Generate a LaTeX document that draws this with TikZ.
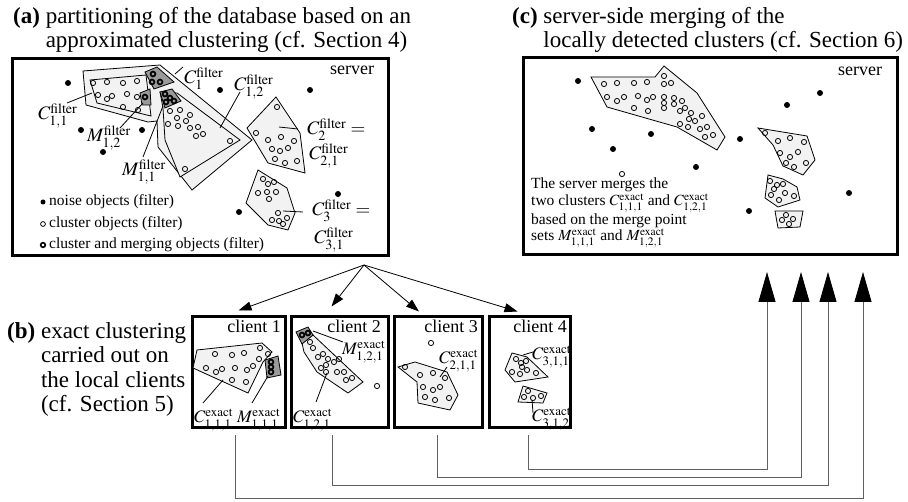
\documentclass[tikz,border=0pt]{standalone}
\usepackage{mathptmx}
\usepackage{fontspec}
\setmainfont{Liberation Serif}
\usetikzlibrary{arrows.meta}
\definecolor{clfill}{HTML}{F2F2F2}
\definecolor{mgfill}{HTML}{9A9A9A}
\definecolor{backgray}{HTML}{606060}

\begin{document}
\begin{tikzpicture}[x=1pt,y=-1pt,every node/.style={inner sep=0pt}]
  \tikzset{
    panel/.style={draw,line width=3pt,fill=white},
    clus/.style={draw,fill=clfill,line width=0.8pt},
    mrg/.style={draw,fill=mgfill,line width=0.8pt},
    lead/.style={line width=0.8pt},
    ttl/.style={font=\fontsize{23}{24.5}\selectfont,align=left,anchor=north west},
    lbl/.style={font=\fontsize{19}{20}\selectfont,anchor=base west},
    xlbl/.style={font=\fontsize{17.5}{18}\selectfont,anchor=base west},
    small/.style={font=\fontsize{15.5}{16.7}\selectfont},
    fanarrow/.style={-{Triangle[length=13pt,width=9pt]},line width=0.8pt},
    backline/.style={draw=backgray,line width=0.9pt,-{Triangle[length=30pt,width=17pt,color=black]}}
  }
  \useasboundingbox (0,0) rectangle (908,502);

  % titles
  \node[ttl] (ttlA) at (13,7) {\textbf{(a)} partitioning of the database based on an\\
    \phantom{\textbf{(a)} }approximated clustering (cf. Section 4)};
  \node[ttl] (ttlC) at (512,7) {\textbf{(c)} server-side merging of the\\
    \phantom{\textbf{(c)} }locally detected clusters (cf. Section 6)};
  \node[ttl] (ttlB) at (7,322) {\textbf{(b)} exact clustering\\
    \phantom{\textbf{(b)} }carried out on\\
    \phantom{\textbf{(b)} }the local clients\\
    \phantom{\textbf{(b)} }(cf. Section 5)};

  % panel (a): server, filter clustering
  \node[panel,minimum width=376pt,minimum height=197pt] (srvA) at (200,157.5) {};
  \node[anchor=base west,font=\fontsize{18}{18}\selectfont] (srvAname) at (330,75) {server};
  \draw[clus] (83,71) -- (160,65) -- (252,140) -- (192,190) -- (158,147) -- (157,121)
    -- (148,122) -- (86,105) -- cycle;
  \draw[clus] (90,80) -- (146,75) -- (151,116) -- (97,103) -- cycle;
  \draw[clus] (160,92) -- (177,93) -- (240,140) -- (180,177) -- (165,140) -- (163,108) -- cycle;
  \draw[mrg] (145,72) -- (157,67) -- (174,82) -- (154,89) -- cycle;
  \draw[mrg] (140,93) -- (150,89) -- (151,105) -- (142,105) -- cycle;
  \draw[mrg] (160,92) -- (172,89) -- (181,101) -- (165,108) -- cycle;
  \draw[clus] (276,97) -- (300,133) -- (305,173) -- (268,163) -- (247,128) -- cycle;
  \draw[clus] (258,170) -- (287,188) -- (295,213) -- (288,230) -- (268,225) -- (246,203) -- cycle;
  \foreach \x/\y in {93/83,107/82,123/83,137/81,98/95,107/99,112/96,127/94,137/97,123/107,138/110,
      170/111,180/110,190/115,177/118,186/121,168/124,178/126,190/128,198/127,196/136,203/134,
      230/141,185/169,
      277/107,256/133,268/140,281/137,294/141,272/149,280/151,288/148,275/159,285/163,297/161,
      263/179,268/184,274/182,258/193,267/192,276/192,269/199,278/213,272/220,279/221,287/218,283/224}
    \draw[line width=0.8pt] (\x,\y) circle (2.6pt);
  \foreach \x/\y in {153/74,152/82,160/82,145/97,165/94,170/98,166/102,174/101}
    \draw[line width=1.7pt] (\x,\y) circle (2.4pt);
  \foreach \x/\y in {68/83,81/130,142/130,103/152,220/90,310/90,239/212,338/194}
    \fill (\x,\y) circle (3pt);
  % labels of (a)
  \node[lbl] (lC1) at (184,84) {$C_1^{\mathrm{filter}}$};
  \node[lbl] (lC12) at (234,91) {$C_{1,2}^{\mathrm{filter}}$};
  \node[lbl] (lC11) at (38,120) {$C_{1,1}^{\mathrm{filter}}$};
  \node[lbl] (lM12) at (87,142) {$M_{1,2}^{\mathrm{filter}}$};
  \node[lbl] (lM11) at (122,176) {$M_{1,1}^{\mathrm{filter}}$};
  \node[lbl] (lC2) at (307,135) {$C_2^{\mathrm{filter}}=$};
  \node[lbl] (lC21) at (309,160) {$C_{2,1}^{\mathrm{filter}}$};
  \node[lbl] (lC3) at (312,216) {$C_3^{\mathrm{filter}}=$};
  \node[lbl] (lC31) at (314,244) {$C_{3,1}^{\mathrm{filter}}$};
  \draw[lead] (67,103) -- (92,93);
  \draw[lead] (120,128) -- (143,103);
  \draw[lead] (143,157) -- (163,106);
  \draw[lead] (175,74) -- (183,67);
  \draw[lead] (240,92) -- (220,128);
  \draw[lead] (279,127) -- (298,129);
  \draw[lead] (283,211) -- (303,212);
  % legend
  \fill (43,202) circle (2.5pt);
  \draw[line width=0.8pt] (43,224) circle (2.4pt);
  \draw[line width=1.7pt] (43,245) circle (2.3pt);
  \node[small,anchor=base west] (legNoise) at (49,206) {noise objects (filter)};
  \node[small,anchor=base west] (legClus) at (49,228) {cluster objects (filter)};
  \node[small,anchor=base west] (legMerge) at (49,249) {cluster and merging objects (filter)};

  % panel (c): server, merged clusters
  \node[panel,minimum width=374pt,minimum height=197pt] (srvC) at (710,156.5) {};
  \node[anchor=base west,font=\fontsize{18}{18}\selectfont] (srvCname) at (838,76) {server};
  \draw[clus] (591,77) -- (655,77) -- (664,66) -- (697,93) -- (725,137) -- (717,150)
    -- (677,127) -- (607,107) -- cycle;
  \draw[clus] (758,128) -- (807,136) -- (815,160) -- (803,175) -- (783,166) -- (773,145) -- cycle;
  \draw[clus] (768,175) -- (783,179) -- (797,187) -- (800,200) -- (778,207) -- (765,198) -- cycle;
  \draw[clus] (775,211) -- (803,211) -- (800,227) -- (778,228) -- cycle;
  \foreach \x/\y in {604/84,617/83,634/83,647/82,664/76,664/84,671/83,607/97,617/101,624/97,
      638/96,647/100,653/97,664/97,664/103,674/98,674/104,682/101,680/111,685/108,691/113,
      689/119,695/121,702/116,634/108,648/111,664/108,680/124,688/127,700/129,707/127,705/137,713/135,
      765/133,778/141,790/138,804/142,780/153,790/157,798/152,786/163,794/167,806/163,
      770/181,777/185,783/184,774/189,785/193,794/196,771/195,779/200,
      786/215,782/220,793/219,789/224,
      622/174}
    \draw[line width=0.8pt] (\x,\y) circle (2.6pt);
  \foreach \x/\y in {578/81,820/93,787/105,592/129,651/134,613/149,740/139,696/167,849/193,749/211}
    \fill (\x,\y) circle (3pt);
  \node[small,align=left,anchor=north west] (mergeTxt) at (531,178) {The server merges the\\
    two clusters $C^{\mathrm{exact}}_{1,1,1}$ and $C^{\mathrm{exact}}_{1,2,1}$\\
    based on the merge point\\
    sets $M^{\mathrm{exact}}_{1,1,1}$ and  $M^{\mathrm{exact}}_{1,2,1}$};

  % panel (b): the clients
  \node[panel,minimum width=93pt,minimum height=111pt] (cl1) at (238.5,372.5) {};
  \node[panel,minimum width=97pt,minimum height=111pt] (cl2) at (339.5,372.5) {};
  \node[panel,minimum width=88pt,minimum height=111pt] (cl3) at (438,372.5) {};
  \node[panel,minimum width=81pt,minimum height=111pt] (cl4) at (529.5,372.5) {};
  \node[anchor=base east,font=\fontsize{18}{18}\selectfont] (cl1name) at (281,333) {client 1};
  \node[anchor=base east,font=\fontsize{18}{18}\selectfont] (cl2name) at (381,333) {client 2};
  \node[anchor=base east,font=\fontsize{18}{18}\selectfont] (cl3name) at (478,333) {client 3};
  \node[anchor=base east,font=\fontsize{18}{18}\selectfont] (cl4name) at (567,333) {client 4};
  % client 1
  \draw[clus] (197,350) -- (262,343) -- (272,352) -- (263,362) -- (248,393) -- (193,368) -- cycle;
  \draw[mrg] (265,360) -- (278,356) -- (281,375) -- (267,378) -- cycle;
  % client 2
  \draw[clus] (302,343) -- (313,335) -- (363,382) -- (348,393) -- (317,372) -- (304,352) -- cycle;
  \draw[mrg] (296,332) -- (308,327) -- (313,335) -- (302,344) -- cycle;
  % client 3
  \draw[clus] (398,367) -- (415,362) -- (447,372) -- (458,395) -- (450,410) -- (418,403) -- (417,382) -- cycle;
  % client 4
  \draw[clus] (512,353) -- (527,357) -- (548,377) -- (515,382) -- (505,370) -- cycle;
  \draw[clus] (523,386) -- (547,393) -- (543,403) -- (518,402) -- cycle;
  \foreach \x/\y in {215/354,232/355,244/353,260/348,268/354,259/359,206/368,216/372,222/369,
      235/368,247/370,253/366,232/380,246/382,
      310/342,313/348,318/357,323/354,328/359,326/365,334/362,339/359,321/368,326/372,337/372,
      344/372,346/380,352/378,377/386,
      431/343,405/367,420/375,433/373,445/378,423/387,433/390,440/387,425/397,435/400,449/398,
      516/359,521/363,526/361,522/367,512/372,520/374,527/370,536/373,
      528/391,524/397,533/398,541/396}
    \draw[line width=0.8pt] (\x,\y) circle (2.6pt);
  \foreach \x/\y in {271/362,271/367,271/372,302/335,308/333}
    \draw[line width=1.7pt] (\x,\y) circle (2.4pt);
  \node[xlbl] (lC111) at (194,423) {$C^{\mathrm{exact}}_{1,1,1}$};
  \node[xlbl] (lM111) at (237,423) {$M^{\mathrm{exact}}_{1,1,1}$};
  \node[xlbl] (lM121) at (342,355) {$M^{\mathrm{exact}}_{1,2,1}$};
  \node[xlbl] (lC121) at (293,423) {$C^{\mathrm{exact}}_{1,2,1}$};
  \node[xlbl] (lC211) at (439,364) {$C^{\mathrm{exact}}_{2,1,1}$};
  \node[xlbl] (lC311) at (532,360) {$C^{\mathrm{exact}}_{3,1,1}$};
  \node[xlbl] (lC312) at (532,422) {$C^{\mathrm{exact}}_{3,1,2}$};
  \draw[lead] (203,403) -- (223,380);
  \draw[lead] (252,403) -- (268,376);
  \draw[lead] (313,331) -- (343,342);
  \draw[lead] (316,402) -- (327,373);
  \draw[lead] (440,377) -- (447,367);
  \draw[lead] (523,355) -- (533,352);
  \draw[lead] (532,400) -- (533,413);

  % distribution to the clients
  \coordinate (fan) at (364,265);
  \draw[fanarrow] (fan) -- ([yshift=5pt]cl1.north);
  \draw[fanarrow] (fan) -- ([xshift=-8pt,yshift=9pt]cl2.north);
  \draw[fanarrow] (fan) -- ([xshift=-19pt,yshift=4pt]cl3.north);
  \draw[fanarrow] (fan) -- ([xshift=-12pt,yshift=4pt]cl4.north);

  % results back to the server
  \coordinate (up1) at (863,272); \coordinate (low1) at (863,498);
  \coordinate (up2) at (828,272); \coordinate (low2) at (828,485);
  \coordinate (up3) at (801,272); \coordinate (low3) at (801,477);
  \coordinate (up4) at (767,272); \coordinate (low4) at (767,469);
  \draw[backline] ([xshift=-3.5pt,yshift=-6pt]cl1.south) |- (low1) -- (up1);
  \draw[backline] ([xshift=-7.5pt,yshift=-6pt]cl2.south) |- (low2) -- (up2);
  \draw[backline] ([xshift=-1pt,yshift=-6pt]cl3.south) |- (low3) -- (up3);
  \draw[backline] ([xshift=-1.5pt,yshift=-6pt]cl4.south) |- (low4) -- (up4);
\end{tikzpicture}
\end{document}
